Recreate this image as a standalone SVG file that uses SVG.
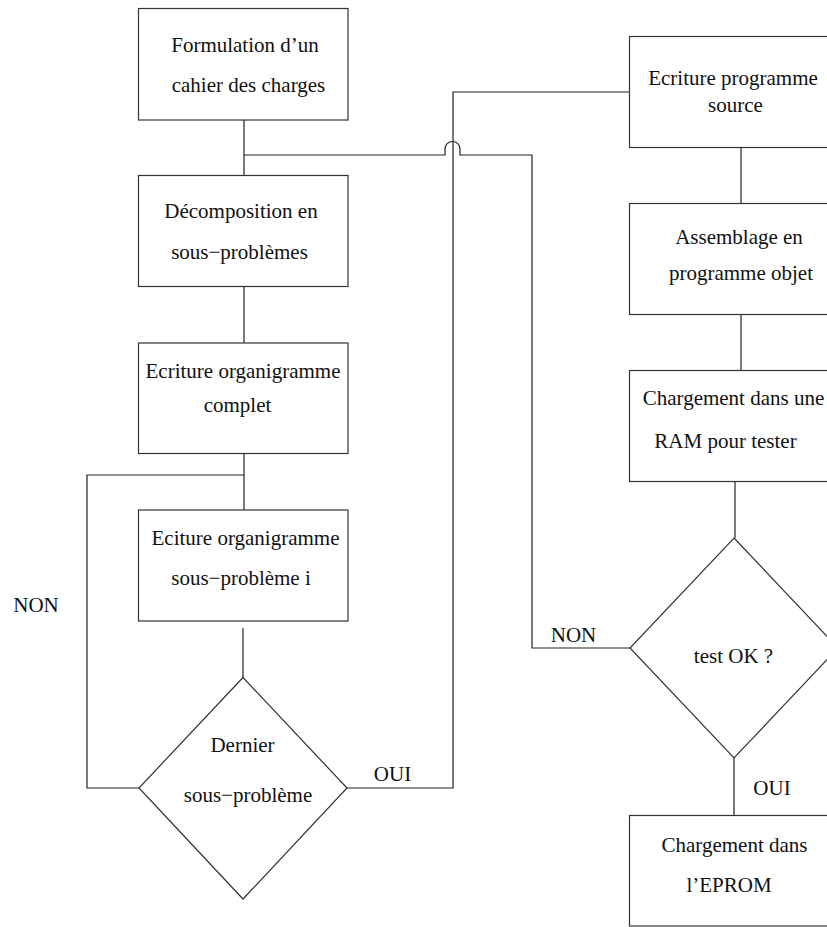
<svg xmlns="http://www.w3.org/2000/svg" width="827" height="927" viewBox="0 0 827 927">
<style>
.box{fill:#fff;stroke:#333;stroke-width:1.2}
.ln{fill:none;stroke:#222;stroke-width:1.2}
text{font-family:"Liberation Serif","Times New Roman",serif;font-size:21px;fill:#111;text-anchor:middle}
</style>
<rect width="827" height="927" fill="#fff"/>
<g id="connectors" class="ln">
<path d="M244,120 V175.5"/>
<path d="M244,155 H445 V149 A7.5,7.5 0 0 1 460,149 V155 H532 V648 H630"/>
<path d="M244,286.5 V343"/>
<path d="M244,453.5 V510"/>
<path d="M244,475 H87 V788 H139"/>
<path d="M243,628 V677.5"/>
<path d="M347,788 H453 V92 H629.5"/>
<path d="M741,147.5 V203.5"/>
<path d="M741,314.5 V370.5"/>
<path d="M735,481.5 V538"/>
<path d="M734,758 V815.5"/>
</g>
<g id="n1"><rect class="box" x="138.5" y="8.5" width="209.5" height="111.5"/><text x="245" y="52">Formulation d’un</text><text x="248.5" y="92">cahier des charges</text></g>
<g id="n2"><rect class="box" x="138.5" y="175.5" width="209.5" height="111"/><text x="241" y="218">Décomposition en</text><text x="239.5" y="259">sous−problèmes</text></g>
<g id="n3"><rect class="box" x="138.5" y="343" width="209.5" height="110.5"/><text x="243" y="378">Ecriture organigramme</text><text x="237.5" y="412">complet</text></g>
<g id="n4"><rect class="box" x="138.5" y="510" width="209.5" height="111"/><text x="245.5" y="545">Eciture organigramme</text><text x="241" y="585">sous−problème i</text></g>
<g id="d1"><polygon class="box" points="243,677.5 347,788 243,899 139,788"/><text x="242.5" y="752">Dernier</text><text x="248" y="802">sous−problème</text></g>
<g id="lbl-oui1"><text x="392.5" y="781">OUI</text></g>
<g id="lbl-non1"><text x="36" y="612">NON</text></g>
<g id="r1"><rect class="box" x="629.5" y="36.5" width="220" height="111"/><text x="733" y="85">Ecriture programme</text><text x="735.5" y="112">source</text></g>
<g id="r2"><rect class="box" x="629.5" y="203.5" width="220" height="111"/><text x="739" y="244">Assemblage en</text><text x="741" y="280">programme objet</text></g>
<g id="r3"><rect class="box" x="629.5" y="370.5" width="220" height="111"/><text x="733.5" y="405">Chargement dans une</text><text x="725.5" y="448">RAM pour tester</text></g>
<g id="d2"><polygon class="box" points="734,538 838,648 734,758 630,648"/><text x="733.5" y="663">test OK ?</text></g>
<g id="lbl-non2"><text x="573.5" y="642">NON</text></g>
<g id="lbl-oui2"><text x="772" y="795">OUI</text></g>
<g id="r4"><rect class="box" x="629.5" y="815.5" width="220" height="110.5"/><text x="734.5" y="852">Chargement dans</text><text x="729" y="892">l’EPROM</text></g>
</svg>
